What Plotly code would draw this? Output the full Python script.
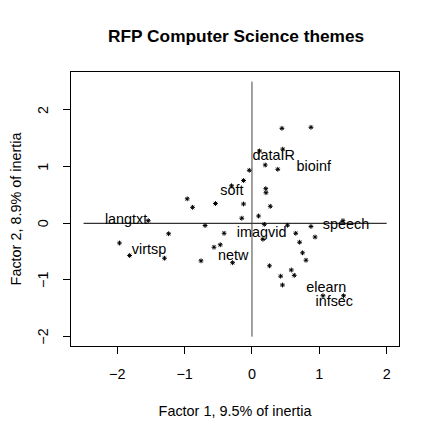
import plotly.graph_objects as go

# individual theme points (factor 1, factor 2)
point_x = [0.445, 0.876, 0.113, 0.457, 0.197, 0.383, -0.040, -0.125, 0.205, 0.208,
           -0.303, -0.961, -0.882, -0.542, -0.125, 0.272, -0.151, 0.098, -1.540, -0.696,
           -1.238, -1.967, -1.817, -1.299, -0.757, -0.564, -0.471, -0.414, -0.288, 0.183,
           0.163, 0.527, 0.876, 0.650, 0.937, 0.707, 0.751, 0.802, 0.260, 0.426,
           0.584, 0.628, 0.453, 1.054, 1.360, 1.351]
point_y = [1.676, 1.694, 1.276, 1.308, 1.029, 0.953, 0.935, 0.755, 0.611, 0.540,
           0.662, 0.432, 0.282, 0.349, 0.341, 0.300, 0.090, 0.129, 0.046, -0.039,
           -0.184, -0.348, -0.568, -0.616, -0.662, -0.422, -0.379, -0.176, -0.695, -0.018,
           -0.282, -0.034, -0.056, -0.176, -0.242, -0.334, -0.521, -0.651, -0.750, -0.933,
           -0.824, -0.918, -1.089, -1.278, -1.278, 0.046]

# theme labels
themes = ["langtxt", "virtsp", "netw", "imagvid", "soft",
          "dataIR", "bioinf", "speech", "elearn", "infsec"]
theme_x = [-1.869, -1.528, -0.278, 0.143, -0.297, 0.324, 0.918, 1.397, 1.103, 1.222]
theme_y = [0.046, -0.471, -0.577, -0.178, 0.558, 1.175, 0.986, -0.030, -1.149, -1.396]

# reference axes through the origin
hline_x = [-2.5, 2.0]
vline_y = [-2.0, 2.5]

tick_vals = [-2, -1, 0, 1, 2]
tick_text = ["\u22122", "\u22121", "0", "1", "2"]

font_family = "Liberation Sans, Arial, sans-serif"
text_font = dict(family=font_family, size=14.4, color="black")

fig = go.Figure()

fig.add_trace(go.Scatter(x=hline_x, y=[0, 0], mode="lines",
                         line=dict(color="black", width=1), hoverinfo="skip"))
fig.add_trace(go.Scatter(x=[0, 0], y=vline_y, mode="lines",
                         line=dict(color="#444444", width=1), hoverinfo="skip"))

fig.add_trace(go.Scatter(
    x=point_x, y=point_y, mode="markers",
    marker=dict(symbol="asterisk-open", size=4, color="black",
                line=dict(color="#222222", width=1)),
))

fig.add_trace(go.Scatter(
    x=theme_x, y=theme_y, mode="text", text=themes,
    textposition="middle center", textfont=text_font,
))

axis_common = dict(
    showgrid=False, zeroline=False, automargin=False,
    showline=True, linecolor="black", linewidth=1, mirror=True,
    ticks="outside", ticklen=7, tickcolor="black", tickwidth=1,
    tickvals=tick_vals, ticktext=tick_text, tickfont=text_font,
)

# y tick labels rotated, R style, placed on the y scale
for val, txt in zip(tick_vals, tick_text):
    fig.add_annotation(x=0, xref="paper", y=val, yref="y", text=txt,
                       showarrow=False, textangle=-90, font=text_font,
                       xanchor="center", yanchor="middle", xshift=-28)

# the page body adds an 8px margin, so the figure is sized 428 and offset accordingly
fig.update_layout(
    width=428, height=428,
    paper_bgcolor="white", plot_bgcolor="white",
    showlegend=False,
    margin=dict(l=63, r=37, t=64, b=90),
    title=dict(text="<b>RFP Computer Science themes</b>", x=0.533, xanchor="center",
               y=1 - 28 / 428, yanchor="middle",
               font=dict(family=font_family, size=17.3, color="black")),
    xaxis=dict(axis_common, range=[-2.687, 2.183], ticklabelstandoff=8,
               title=dict(text="Factor 1, 9.5% of inertia", standoff=24, font=text_font)),
    yaxis=dict(axis_common, range=[-2.165, 2.67], showticklabels=False,
               title=dict(text="Factor 2, 8.9% of inertia", standoff=40, font=text_font)),
)

fig.write_html("out.html")
